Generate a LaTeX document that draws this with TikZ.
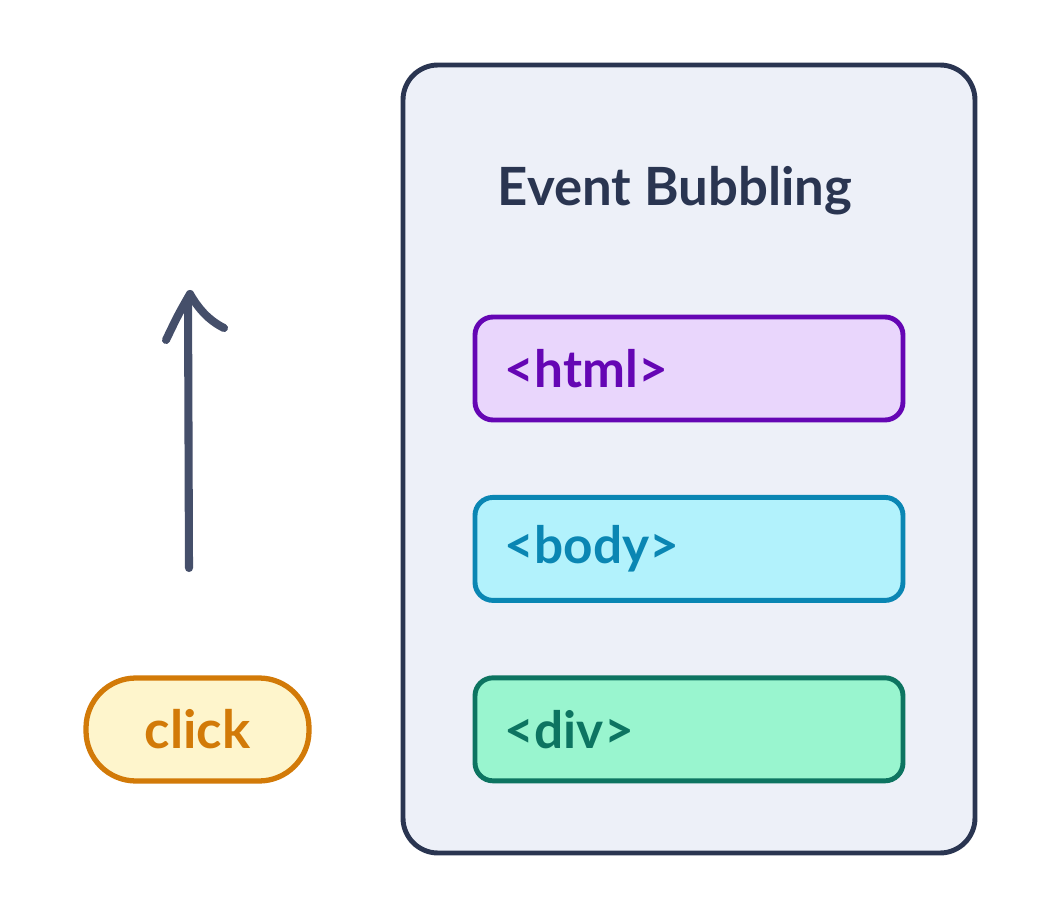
\documentclass[tikz,border=0pt]{standalone}
\usepackage{fontspec}
\setmainfont{Lato}
\usetikzlibrary{positioning}

\definecolor{navy}{HTML}{2A3551}
\definecolor{panelfill}{HTML}{EDF0F8}
\definecolor{arrowgray}{HTML}{454F6A}
\definecolor{htmlfill}{HTML}{E9D6FC}
\definecolor{htmldraw}{HTML}{6506B4}
\definecolor{bodyfill}{HTML}{B2F2FC}
\definecolor{bodydraw}{HTML}{0A86B3}
\definecolor{divfill}{HTML}{99F5CF}
\definecolor{divdraw}{HTML}{0D7461}
\definecolor{clickfill}{HTML}{FEF5CC}
\definecolor{clickdraw}{HTML}{D27A08}

\tikzset{
    tagbox/.style={draw=#1draw, fill=#1fill, text=#1draw, line width=1.4pt,
        rounded corners=0.18cm, minimum height=1.03cm, text width=3.68cm,
        inner xsep=0.3cm, align=left, font=\fontsize{14.6}{18}\selectfont\bfseries},
    arrowline/.style={draw=arrowgray, line width=2.3pt, line cap=round, line join=round}
}

\begin{document}
\begin{tikzpicture}
        % Marco de la imagen
        \useasboundingbox (0,0) rectangle (10.41,-9.18);

        % Panel de fondo
        \node[draw=navy, fill=panelfill, line width=1.4pt, rounded corners=0.35cm,
            minimum width=5.72cm, minimum height=7.88cm] (panel) at (6.89,-4.59) {};

        % Titulo del panel
        \node[text=navy, anchor=base, font=\fontsize{15}{18}\selectfont\bfseries]
            (title) at (6.75,-2.05) {Event Bubbling};

        % Cajas de las etiquetas
        \node[tagbox=html] (html) at (6.89,-3.685) {<html>};
        \node[tagbox=body, below=0.725cm of html] (body) {<body>};
        \node[tagbox=div, below=0.725cm of body] (div) {<div>};

        % Evento click
        \node[draw=clickdraw, fill=clickfill, text=clickdraw, line width=1.5pt,
            rounded corners=0.5cm, minimum width=2.23cm, minimum height=1.03cm,
            font=\fontsize{15}{18}\selectfont\bfseries] (click) at (1.975,-7.295) {click};

        % Flecha hacia arriba
        \coordinate (tail) at (1.89,-5.68);
        \coordinate (tip) at (1.88,-2.98);
        \draw[arrowline] (tail) -- (tip);
        \draw[arrowline] (1.66,-3.40) .. controls (1.78,-3.15) .. (1.90,-2.94)
            .. controls (1.98,-3.08) and (2.08,-3.2) .. (2.24,-3.28);
    \end{tikzpicture}
\end{document}
